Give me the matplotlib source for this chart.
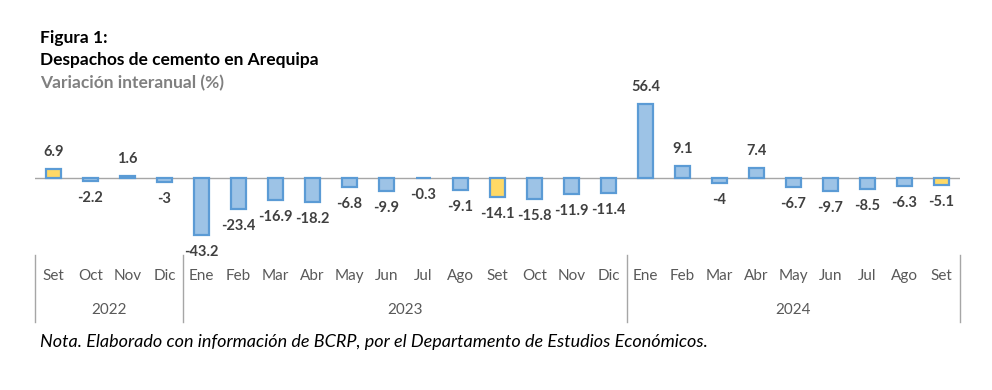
import matplotlib.pyplot as plt

# Datos
meses = ["Set", "Oct", "Nov", "Dic",
         "Ene", "Feb", "Mar", "Abr", "May", "Jun", "Jul", "Ago", "Set", "Oct", "Nov", "Dic",
         "Ene", "Feb", "Mar", "Abr", "May", "Jun", "Jul", "Ago", "Set"]
valores = [6.9, -2.2, 1.6, -3,
           -43.2, -23.4, -16.9, -18.2, -6.8, -9.9, -0.3, -9.1, -14.1, -15.8, -11.9, -11.4,
           56.4, 9.1, -4, 7.4, -6.7, -9.7, -8.5, -6.3, -5.1]
etiquetas = ["6.9", "-2.2", "1.6", "-3",
             "-43.2", "-23.4", "-16.9", "-18.2", "-6.8", "-9.9", "-0.3", "-9.1", "-14.1", "-15.8", "-11.9", "-11.4",
             "56.4", "9.1", "-4", "7.4", "-6.7", "-9.7", "-8.5", "-6.3", "-5.1"]
anios = ["2022", "2023", "2024"]
meses_por_anio = [4, 12, 9]
resaltados = [0, 12, 24]  # meses de setiembre

plt.rcParams['font.family'] = ['Lato', 'DejaVu Sans']

azul = '#9DC3E6'
borde = '#5B9BD5'
amarillo = '#FFD966'
gris_texto = '#404040'

fig = plt.figure(figsize=(9.92, 3.9), dpi=100)
ax = fig.add_axes([35/992, 1 - 255/390, 925/992, 165/390])

x = list(range(len(valores)))
colores = [amarillo if i in resaltados else azul for i in x]
ax.bar(x, valores, width=0.38, color=colores, edgecolor=borde, linewidth=1.6, zorder=3)
ax.axhline(0, color='#A6A6A6', linewidth=1, zorder=2)

ax.set_xlim(-0.5, len(valores) - 0.5)
ax.set_ylim(-58.3, 66.7)
ax.axis('off')

# Etiquetas de datos
for i, (v, t) in enumerate(zip(valores, etiquetas)):
    off = 17 if v >= 0 else -17
    ax.annotate(t, (i, v), xytext=(0, off), textcoords='offset pixels',
                ha='center', va='center', fontsize=10.5, fontweight='bold', color=gris_texto)

# Eje de categorías
tr = ax.get_xaxis_transform()
for i, m in enumerate(meses):
    ax.text(i, -0.127, m, transform=tr, ha='center', va='center', fontsize=11, color='#595959')

inicio = -0.5
sep = [inicio]
for a, n in zip(anios, meses_por_anio):
    ax.text(inicio + n / 2, -0.333, a, transform=tr, ha='center', va='center',
            fontsize=11, color='#595959')
    inicio += n
    sep.append(inicio)
for s in sep:
    ax.plot([s, s], [0, -0.406], transform=tr, color='#A6A6A6', linewidth=1, clip_on=False)

# Títulos
fig.text(40/992, 1 - 38/390, "Figura 1:", fontsize=12.5, fontweight='bold', color='black', va='center')
fig.text(40/992, 1 - 60/390, "Despachos de cemento en Arequipa", fontsize=12.5, fontweight='bold',
         color='black', va='center')
fig.text(40/992, 1 - 83/390, "Variación interanual (%)", fontsize=12.5, fontweight='bold',
         color='#808080', va='center')
fig.text(40/992, 1 - 342/390,
         "Nota. Elaborado con información de BCRP, por el Departamento de Estudios Económicos.",
         fontsize=13, style='italic', color='black', va='center')

fig.savefig('out.png', dpi=100)
